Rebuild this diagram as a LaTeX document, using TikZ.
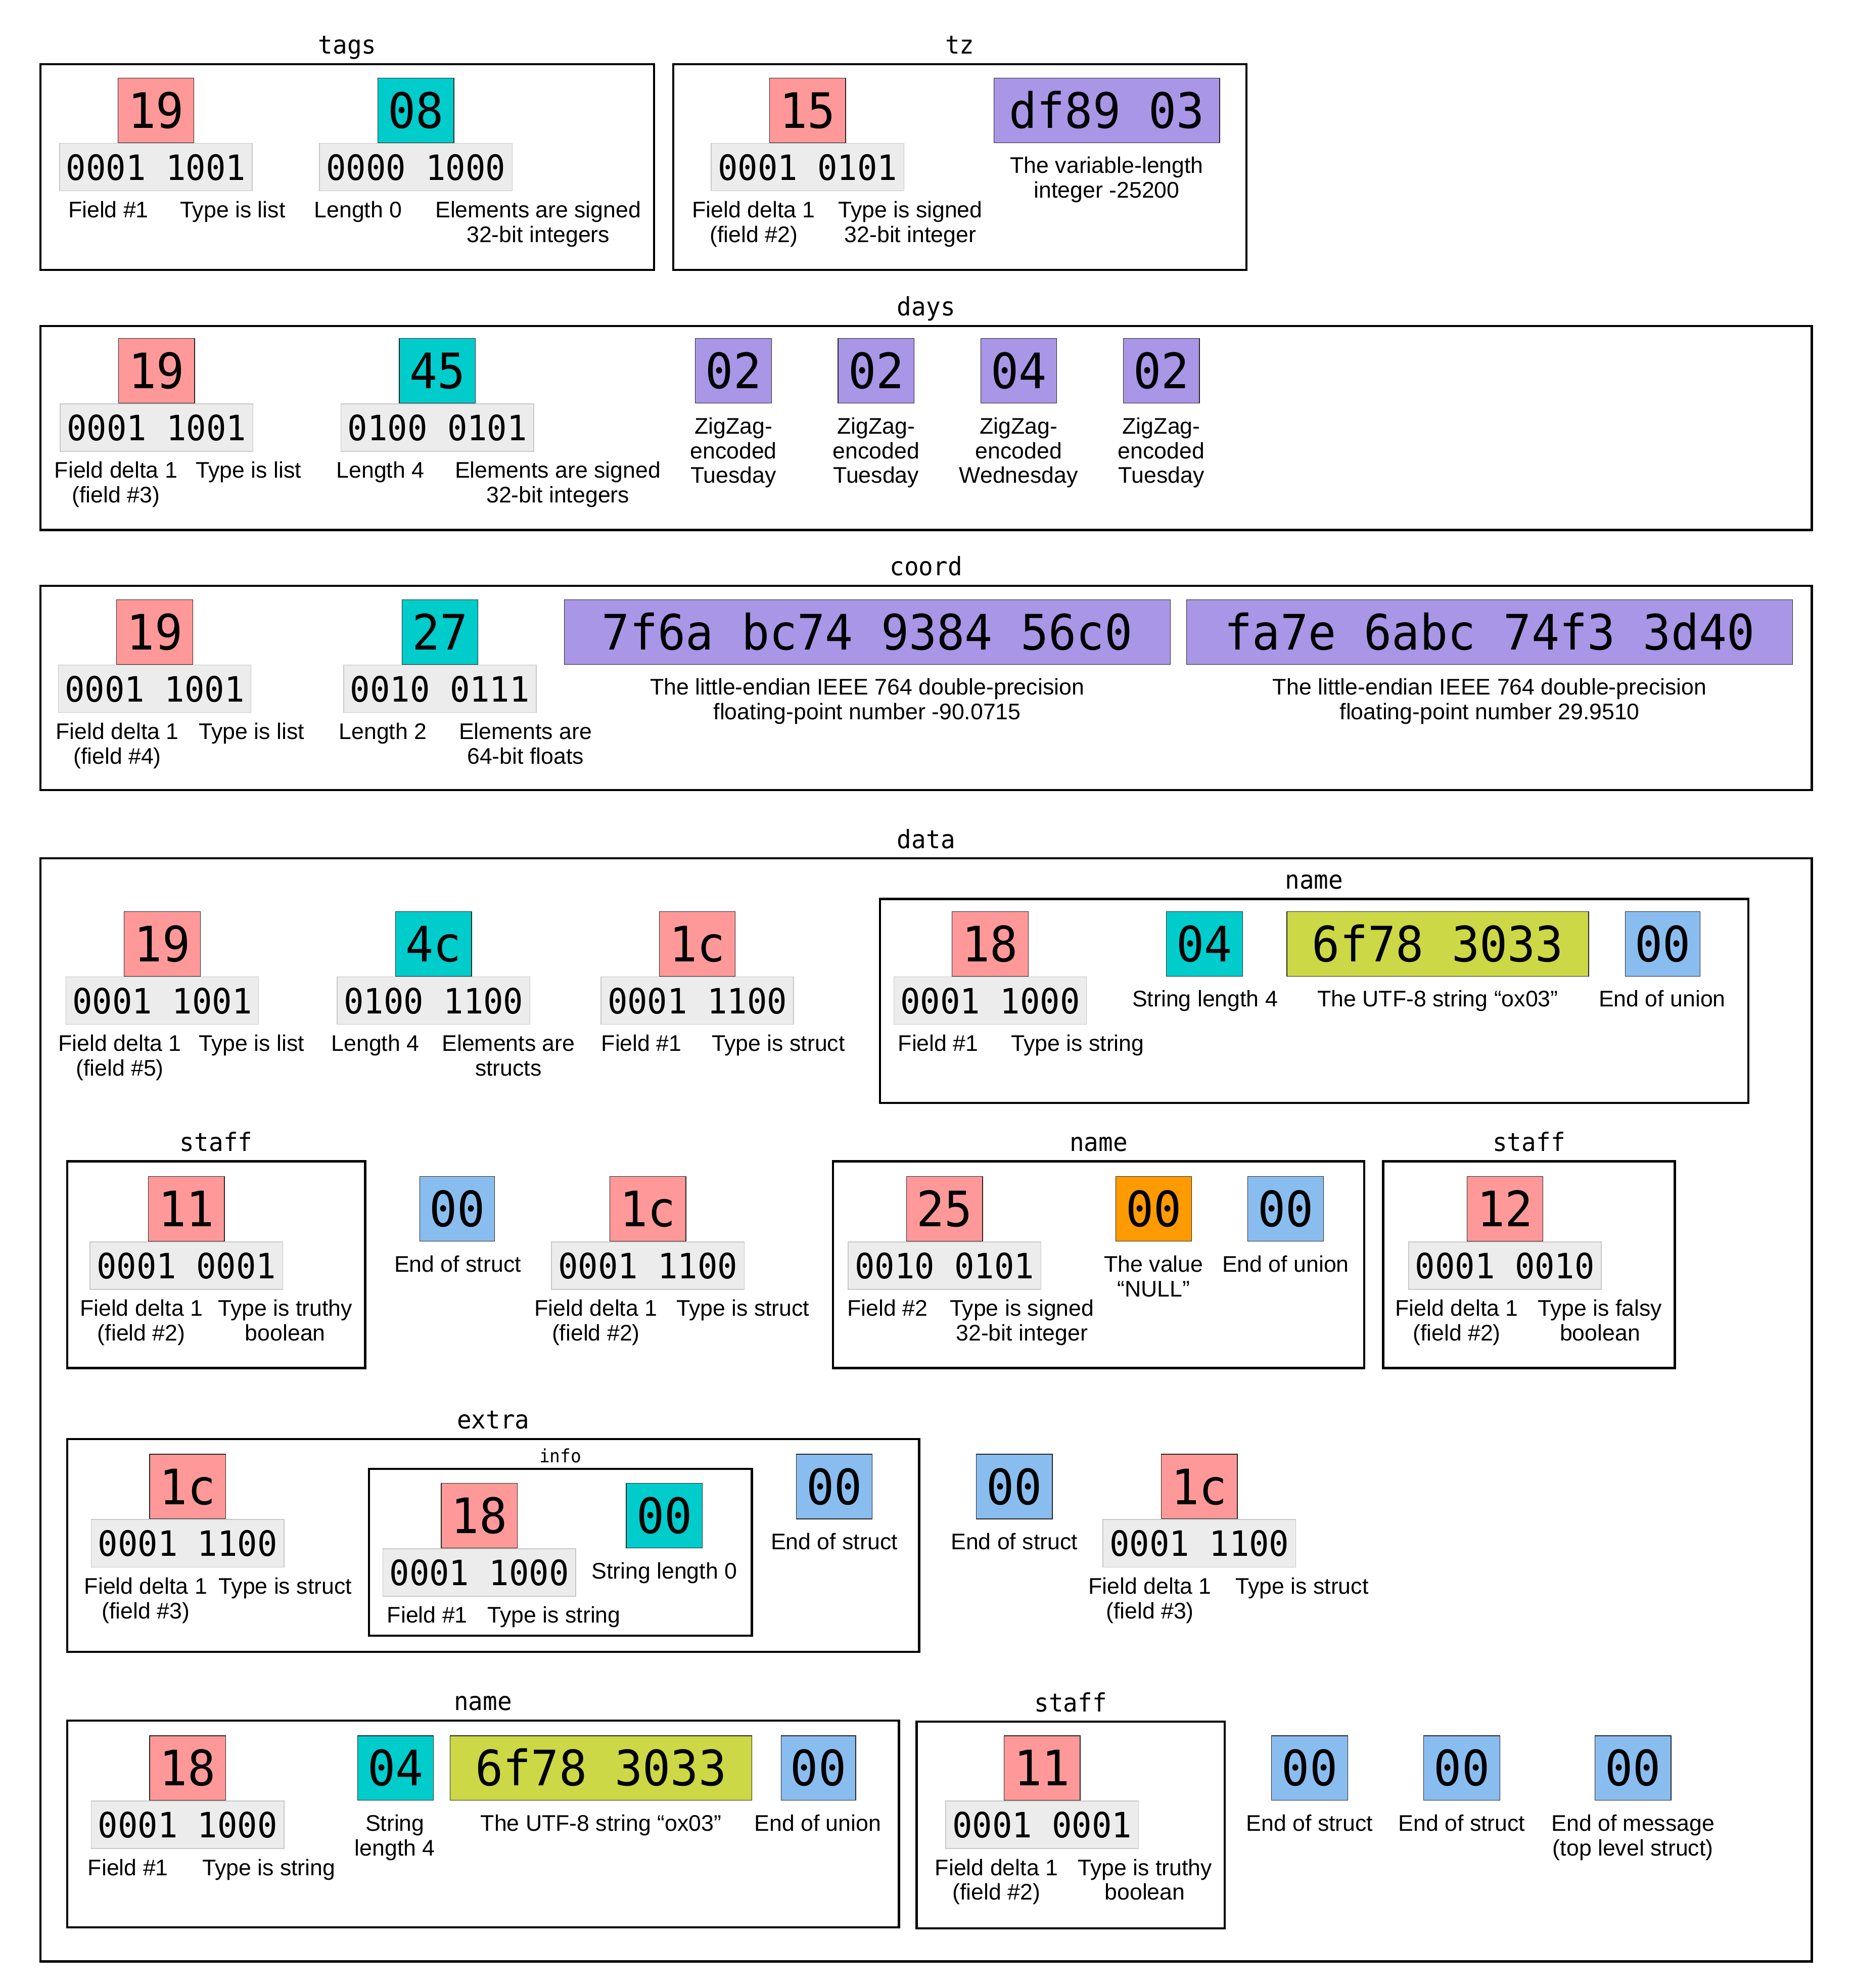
\documentclass[tikz,border=0pt]{standalone}
\usepackage{fontspec}
\setmainfont{Liberation Sans}
\newfontfamily\monof[FakeStretch=0.95]{DejaVu Sans Mono}
\usetikzlibrary{positioning,fit,calc}
\definecolor{cpink}{HTML}{FF9999}
\definecolor{cteal}{HTML}{00CCCC}
\definecolor{cpurp}{HTML}{A996E6}
\definecolor{clime}{HTML}{CCD845}
\definecolor{cblue}{HTML}{8ABDEF}
\definecolor{corng}{HTML}{FF9A00}
\definecolor{cgfill}{HTML}{ECECEC}
\definecolor{cgline}{HTML}{C8C8C8}
\tikzset{
  hexbox/.style={draw=black!85, line width=0.5pt, inner sep=0pt, outer sep=0pt,
    minimum height=51pt, text height=28pt, text depth=0pt,
    font=\monof\fontsize{38.5}{40}\selectfont},
  binbox/.style={draw=cgline, fill=cgfill, line width=0.6pt, inner sep=0pt, outer sep=0pt,
    minimum width=152pt, minimum height=37.5pt, text height=20.4pt, text depth=0pt,
    font=\monof\fontsize{27.5}{30}\selectfont},
  lbl/.style={anchor=north, inner sep=0pt, align=center, font=\fontsize{17.8}{19.5}\selectfont},
  framebox/.style={draw=black, line width=1.7pt, inner sep=0pt, outer sep=0pt},
  ttl/.style={inner sep=0pt, font=\monof\fontsize{20}{24}\selectfont},
  ttlsmall/.style={inner sep=0pt, font=\monof\fontsize{14.5}{16}\selectfont},
}
% name, x centre, y top, colour, width, text
\newcommand\hexn[6]{\node[hexbox, fill=#4, minimum width=#5pt] (#1) at (#2,#3+25.5) {#6};}
% above node, name, text
\newcommand\binn[3]{\node[binbox, below=0.5pt of #1] (#2) {#3};}
% name, x, y, text
\newcommand\lab[4]{\node[lbl] (#1) at (#2,#3) {#4};}
% name, x1, y1, x2, y2, title, title style, title offset
\newcommand\frm[8]{%
  \node[framebox, fit={(#2,#3) (#4,#5)}] (#1) {};
  \node[#7, anchor=base] (#1-t) at ($(#1.north)+(0,-#8)$) {#6};}
\begin{document}
\begin{tikzpicture}[x=1pt, y=-1pt]
\useasboundingbox[fill=white] (0,0) rectangle (1462,1568);

% ---------- frames ----------
\frm{tags}{32}{50.5}{516}{213}{tags}{ttl}{8}
\frm{tz}{531}{50.5}{983}{213}{tz}{ttl}{8}
\frm{days}{32}{257}{1429}{418}{days}{ttl}{8}
\frm{coord}{32}{462}{1429}{623}{coord}{ttl}{8}
\frm{data}{32}{677}{1429}{1547}{data}{ttl}{8}
\frm{nameA}{694}{709}{1379}{870}{name}{ttl}{8}
\frm{staffA}{53}{916}{288}{1079}{staff}{ttl}{8}
\frm{nameB}{657}{916}{1076}{1079}{name}{ttl}{8}
\frm{staffB}{1091}{916}{1321}{1079}{staff}{ttl}{8}
\frm{extra}{53}{1135}{725}{1303}{extra}{ttl}{8}
\frm{info}{291}{1158.5}{593}{1290}{info}{ttlsmall}{4.8}
\frm{nameC}{53}{1357}{709}{1520}{name}{ttl}{8}
\frm{staffC}{723}{1358}{966}{1521}{staff}{ttl}{8}

% ---------- tags ----------
\hexn{t1}{123}{61.5}{cpink}{60}{19}
\binn{t1}{t1b}{0001 1001}
\lab{t1l}{85.5}{158.5}{Field \#1}
\lab{t1r}{183.5}{158.5}{Type is list}
\hexn{t2}{328}{61.5}{cteal}{60}{08}
\binn{t2}{t2b}{0000 1000}
\lab{t2l}{282.5}{158.5}{Length 0}
\lab{t2r}{424.5}{158.5}{Elements are signed\\32-bit integers}

% ---------- tz ----------
\hexn{z1}{637}{61.5}{cpink}{60}{15}
\binn{z1}{z1b}{0001 0101}
\lab{z1l}{594.5}{158.5}{Field delta 1\\(field \#2)}
\lab{z1r}{718}{158.5}{Type is signed\\32-bit integer}
\hexn{z2}{873}{61.5}{cpurp}{178}{df89 03}
\lab{z2l}{873}{123.5}{The variable-length\\integer -25200}

% ---------- days ----------
\hexn{d1}{123.5}{267}{cpink}{60}{19}
\binn{d1}{d1b}{0001 1001}
\lab{d1l}{91.5}{364}{Field delta 1\\(field \#3)}
\lab{d1r}{196}{364}{Type is list}
\hexn{d2}{345}{267}{cteal}{60}{45}
\binn{d2}{d2b}{0100 0101}
\lab{d2l}{300}{364}{Length 4}
\lab{d2r}{440}{364}{Elements are signed\\32-bit integers}
\hexn{d3}{578.5}{267}{cpurp}{60}{02}
\lab{d3l}{578.5}{329}{ZigZag-\\encoded\\Tuesday}
\hexn{d4}{691}{267}{cpurp}{60}{02}
\lab{d4l}{691}{329}{ZigZag-\\encoded\\Tuesday}
\hexn{d5}{803.5}{267}{cpurp}{60}{04}
\lab{d5l}{803.5}{329}{ZigZag-\\encoded\\Wednesday}
\hexn{d6}{916}{267}{cpurp}{60}{02}
\lab{d6l}{916}{329}{ZigZag-\\encoded\\Tuesday}

% ---------- coord ----------
\hexn{c1}{122}{473}{cpink}{60}{19}
\binn{c1}{c1b}{0001 1001}
\lab{c1l}{92.5}{570}{Field delta 1\\(field \#4)}
\lab{c1r}{198.5}{570}{Type is list}
\hexn{c2}{347}{473}{cteal}{60}{27}
\binn{c2}{c2b}{0010 0111}
\lab{c2l}{302}{570}{Length 2}
\lab{c2r}{414.5}{570}{Elements are\\64-bit floats}
\hexn{c3}{684}{473}{cpurp}{478}{7f6a bc74 9384 56c0}
\lab{c3l}{684}{535}{The little-endian IEEE 764 double-precision\\floating-point number -90.0715}
\hexn{c4}{1175}{473}{cpurp}{478}{fa7e 6abc 74f3 3d40}
\lab{c4l}{1175}{535}{The little-endian IEEE 764 double-precision\\floating-point number 29.9510}

% ---------- data row 1 ----------
\hexn{a1}{128}{719}{cpink}{60}{19}
\binn{a1}{a1b}{0001 1001}
\lab{a1l}{94.5}{816}{Field delta 1\\(field \#5)}
\lab{a1r}{198.5}{816}{Type is list}
\hexn{a2}{342}{719}{cteal}{60}{4c}
\binn{a2}{a2b}{0100 1100}
\lab{a2l}{296}{816}{Length 4}
\lab{a2r}{401}{816}{Elements are\\structs}
\hexn{a3}{550}{719}{cpink}{60}{1c}
\binn{a3}{a3b}{0001 1100}
\lab{a3l}{506}{816}{Field \#1}
\lab{a3r}{614}{816}{Type is struct}
\hexn{a4}{781}{719}{cpink}{60}{18}
\binn{a4}{a4b}{0001 1000}
\lab{a4l}{740}{816}{Field \#1}
\lab{a4r}{850}{816}{Type is string}
\hexn{a5}{950}{719}{cteal}{60}{04}
\lab{a5l}{950.5}{781}{String length 4}
\hexn{a6}{1134}{719}{clime}{238}{6f78 3033}
\lab{a6l}{1134}{781}{The UTF-8 string “ox03”}
\hexn{a7}{1311.5}{719}{cblue}{59}{00}
\lab{a7l}{1311}{781}{End of union}

% ---------- data row 2 ----------
\hexn{b1}{147}{928}{cpink}{60}{11}
\binn{b1}{b1b}{0001 0001}
\lab{b1l}{111.5}{1025}{Field delta 1\\(field \#2)}
\lab{b1r}{225}{1025}{Type is truthy\\boolean}
\hexn{b2}{360.5}{928}{cblue}{59}{00}
\lab{b2l}{361}{990}{End of struct}
\hexn{b3}{511}{928}{cpink}{60}{1c}
\binn{b3}{b3b}{0001 1100}
\lab{b3l}{470}{1025}{Field delta 1\\(field \#2)}
\lab{b3r}{586}{1025}{Type is struct}
\hexn{b4}{745}{928}{cpink}{60}{25}
\binn{b4}{b4b}{0010 0101}
\lab{b4l}{700}{1025}{Field \#2}
\lab{b4r}{806}{1025}{Type is signed\\32-bit integer}
\hexn{b5}{910}{928}{corng}{60}{00}
\lab{b5l}{910}{990}{The value\\“NULL”}
\hexn{b6}{1014}{928}{cblue}{60}{00}
\lab{b6l}{1014}{990}{End of union}
\hexn{b7}{1187}{928}{cpink}{60}{12}
\binn{b7}{b7b}{0001 0010}
\lab{b7l}{1149}{1025}{Field delta 1\\(field \#2)}
\lab{b7r}{1262}{1025}{Type is falsy\\boolean}

% ---------- data row 3 ----------
\hexn{e1}{148}{1147}{cpink}{60}{1c}
\binn{e1}{e1b}{0001 1100}
\lab{e1l}{115}{1244}{Field delta 1\\(field \#3)}
\lab{e1r}{225}{1244}{Type is struct}
\hexn{i1}{378}{1170}{cpink}{60}{18}
\binn{i1}{i1b}{0001 1000}
\lab{i1l}{337}{1267}{Field \#1}
\lab{i1r}{437}{1267}{Type is string}
\hexn{i2}{524}{1170}{cteal}{60}{00}
\lab{i2l}{524}{1232}{String length 0}
\hexn{e2}{658}{1147}{cblue}{60}{00}
\lab{e2l}{658}{1209}{End of struct}
\hexn{e3}{800}{1147}{cblue}{60}{00}
\lab{e3l}{800}{1209}{End of struct}
\hexn{e4}{946}{1147}{cpink}{60}{1c}
\binn{e4}{e4b}{0001 1100}
\lab{e4l}{907}{1244}{Field delta 1\\(field \#3)}
\lab{e4r}{1027}{1244}{Type is struct}

% ---------- data row 4 ----------
\hexn{f1}{148}{1369}{cpink}{60}{18}
\binn{f1}{f1b}{0001 1000}
\lab{f1l}{101}{1466}{Field \#1}
\lab{f1r}{212}{1466}{Type is string}
\hexn{f2}{312}{1369}{cteal}{60}{04}
\lab{f2l}{311.5}{1431}{String\\length 4}
\hexn{f3}{474}{1369}{clime}{238}{6f78 3033}
\lab{f3l}{474}{1431}{The UTF-8 string “ox03”}
\hexn{f4}{645.5}{1369}{cblue}{59}{00}
\lab{f4l}{645}{1431}{End of union}
\hexn{f5}{822}{1369}{cpink}{60}{11}
\binn{f5}{f5b}{0001 0001}
\lab{f5l}{786}{1466}{Field delta 1\\(field \#2)}
\lab{f5r}{903}{1466}{Type is truthy\\boolean}
\hexn{f6}{1033}{1369}{cblue}{60}{00}
\lab{f6l}{1033}{1431}{End of struct}
\hexn{f7}{1153}{1369}{cblue}{60}{00}
\lab{f7l}{1153}{1431}{End of struct}
\hexn{f8}{1288}{1369}{cblue}{60}{00}
\lab{f8l}{1288}{1431}{End of message\\(top level struct)}
\end{tikzpicture}
\end{document}
